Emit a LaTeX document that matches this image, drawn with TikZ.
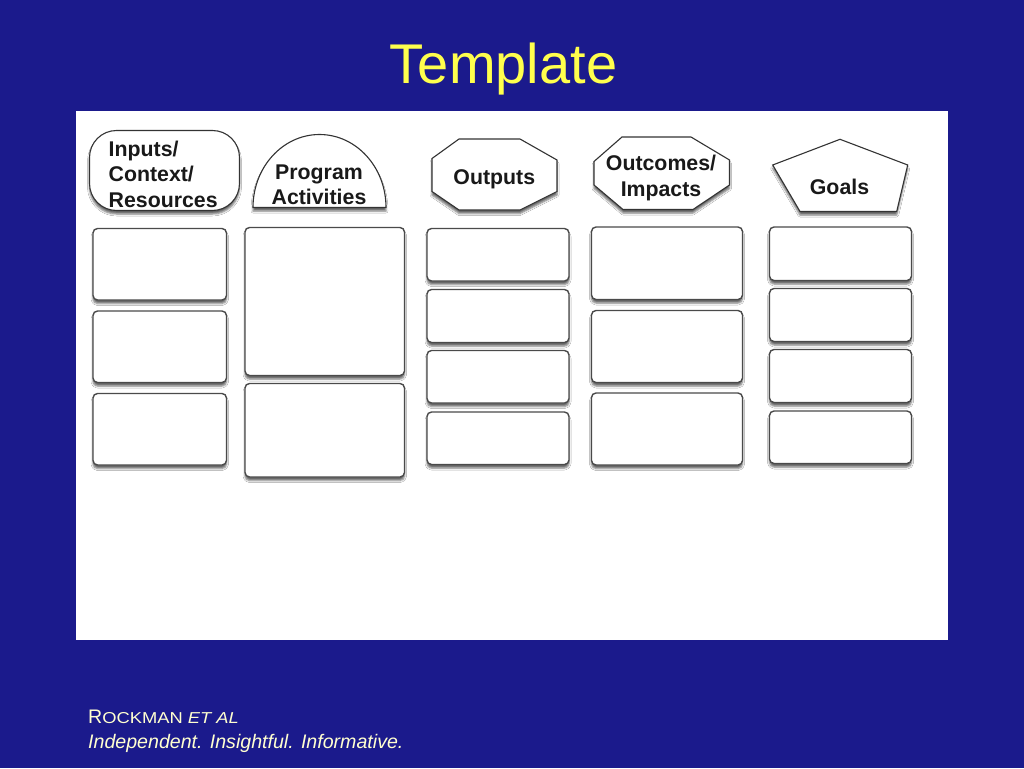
\documentclass[tikz,border=0pt]{standalone}
\usepackage{fontspec}
\usepackage{graphicx}
\setmainfont{Liberation Sans}[BoldFont={Liberation Sans Bold},ItalicFont={Liberation Sans Italic}]
\usetikzlibrary{shadows.blur}
\definecolor{bgblue}{HTML}{1B1A8C}
\definecolor{titleyellow}{HTML}{FFFF4D}
\definecolor{footcream}{HTML}{FFFFD0}
\definecolor{boxline}{HTML}{4A4A4A}
\tikzset{
  cell/.style={draw=boxline, line width=1.4pt, fill=white, rounded corners=4.5pt,
    blur shadow={shadow xshift=0pt, shadow yshift=-3.5pt, shadow blur radius=2pt, shadow opacity=60}},
  header/.style={draw=black!80, line width=1.1pt, fill=white,
    blur shadow={shadow xshift=0pt, shadow yshift=-3.5pt, shadow blur radius=2pt, shadow opacity=60}},
  htext/.style={inner sep=0pt, font=\fontsize{21.3}{25.5}\selectfont\bfseries, text=black!90},
}
\begin{document}
\begin{tikzpicture}[x=1pt,y=-1pt]
\fill[bgblue] (0,0) rectangle (1024,768);
\useasboundingbox (0,0) rectangle (1024,768);
\fill[white] (76,111) rectangle (948,640);

% title
\node[anchor=base, inner sep=0pt, text=titleyellow, font=\fontsize{56}{60}\selectfont] (title) at (503.5,83) {Template};

% headers
\draw[header, rounded corners=27pt] (89.5,130.5) rectangle (239.5,210.5);
\node[htext, anchor=north west, align=left] (hin) at (108.5,140.5) {Inputs/\\Context/\\Resources};

\draw[header] (253,207.5) arc[start angle=180, end angle=360, x radius=66.5, y radius=73] -- cycle;
\node[htext, anchor=north, align=center] (hprog) at (319,164.5) {Program\\Activities};

\draw[header] (459,139) -- (520,139) -- (557,160) -- (557,191.5) -- (520,210) -- (459,210) -- (432,191.5) -- (432,158.5) -- cycle;
\node[htext, anchor=base] (hout) at (494.3,184) {Outputs};

\draw[header] (622,137) -- (691,137) -- (729.5,160) -- (729.5,185) -- (693,209.5) -- (623,209.5) -- (594,185) -- (594,161.5) -- cycle;
\node[htext, anchor=north, align=center] (houtc) at (661,155) {Outcomes/\\Impacts};

\draw[header] (840,139.3) -- (907.7,165) -- (896.7,211.5) -- (800,211.5) -- (772.7,165) -- cycle;
\node[htext, anchor=base] (hgoal) at (839.5,194) {Goals};

% column 1
\draw[cell] (93,228.5) rectangle (226.5,300);
\draw[cell] (93,311) rectangle (226.5,382.5);
\draw[cell] (93,393.5) rectangle (226.5,465);
% column 2
\draw[cell] (245,227.5) rectangle (404.5,375.5);
\draw[cell] (245,383.5) rectangle (404.5,477);
% column 3
\draw[cell] (427,228.5) rectangle (569,281);
\draw[cell] (427,289.5) rectangle (569,342.5);
\draw[cell] (427,350.5) rectangle (569,403);
\draw[cell] (427,412) rectangle (569,464.5);
% column 4
\draw[cell] (591.5,227) rectangle (742.5,299.5);
\draw[cell] (591.5,310.5) rectangle (742.5,382.5);
\draw[cell] (591.5,393) rectangle (742.5,465);
% column 5
\draw[cell] (769.5,227) rectangle (911.5,280.5);
\draw[cell] (769.5,288.5) rectangle (911.5,341.5);
\draw[cell] (769.5,349.5) rectangle (911.5,402.5);
\draw[cell] (769.5,411) rectangle (911.5,463.5);

% footer
\node[anchor=base west, inner sep=0pt, text=footcream, font=\fontsize{19.6}{24}\selectfont] (foot1) at (88,723)
  {R\scalebox{1.16}[1]{\fontsize{15.8}{18}\selectfont OCKMAN \itshape ET AL}};
\node[anchor=base west, inner sep=0pt, text=footcream, font=\fontsize{19.6}{24}\selectfont\itshape] (foot2) at (88,748)
  {Independent. Insightful. Informative.};
\end{tikzpicture}
\end{document}
